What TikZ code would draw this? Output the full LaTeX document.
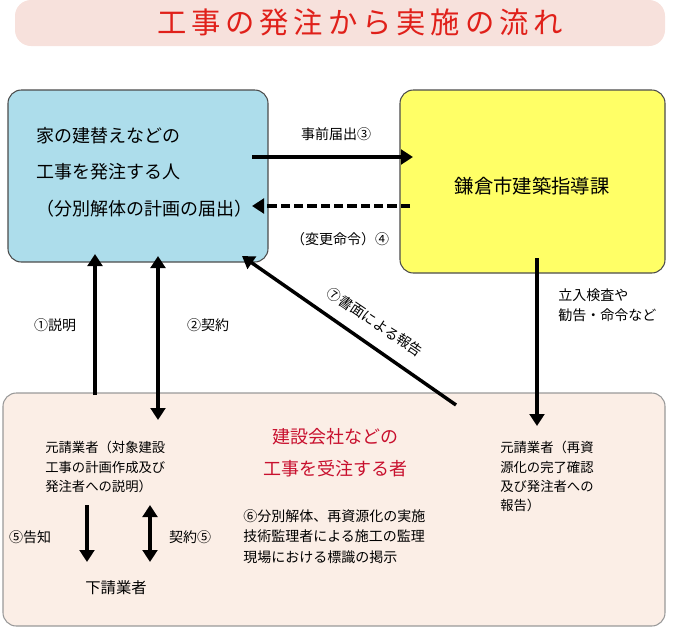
\documentclass[tikz,border=0pt]{standalone}
\usepackage{fontspec}
\setmainfont{Noto Sans CJK JP}
\usetikzlibrary{arrows.meta}
\definecolor{tpink}{HTML}{F7E1DC}
\definecolor{tred}{HTML}{E0201A}
\definecolor{lblue}{HTML}{ADDDEB}
\definecolor{lyel}{HTML}{FFFF66}
\definecolor{peach}{HTML}{FBEEE6}
\definecolor{crim}{HTML}{C8102E}
\tikzset{
 box/.style={draw=black!70,rounded corners=10pt,line width=0.8pt},
 arr/.style={line width=2.6pt,-{Triangle[length=9pt,width=11pt]}},
 darr/.style={line width=2.6pt,{Triangle[length=9pt,width=11pt]}-{Triangle[length=9pt,width=11pt]}},
 txt/.style={font=\fontsize{13.5}{16}\selectfont,align=left,inner sep=0pt},
 sm/.style={font=\fontsize{10.5}{15}\selectfont,align=left,inner sep=0pt}
}
\begin{document}
\begin{tikzpicture}[x=0.75pt,y=-0.75pt]
\useasboundingbox (0,0) rectangle (680,629);
\fill[tpink,rounded corners=12pt] (15,0) rectangle (665,46);
\node[font=\fontsize{22}{26}\selectfont,text=tred] (title) at (360,22) {工\,事\,の\,発\,注\,か\,ら\,実\,施\,の\,流\,れ};
\draw[box,fill=lblue] (8,90) rectangle (268,262);
\node[txt,anchor=west] (t1) at (36,136) {家の建替えなどの};
\node[txt,anchor=west] (t2) at (36,172) {工事を発注する人};
\node[txt,anchor=west] (t3) at (36,209) {（分別解体の計画の届出）};
\draw[box,fill=lyel] (400,90) rectangle (665,273);
\node[txt,font=\fontsize{14.5}{18}\selectfont] (t4) at (532,186) {鎌倉市建築指導課};
\draw[box,draw=black!40,fill=peach] (3,393) rectangle (665,626);
\coordinate (a1) at (252,157); \coordinate (a2) at (413,157);
\draw[arr] (a1) -- (a2);
\coordinate (d1) at (410,206); \coordinate (d2) at (252,206);
\draw[arr,dashed,dash pattern=on 7pt off 3pt] (d1) -- (d2);
\node[sm] (l3) at (336,134) {事前届出③};
\node[sm] (l4) at (340,239) {（変更命令）④};
\coordinate (u1) at (95,395); \coordinate (u2) at (95,254);
\draw[arr] (u1) -- (u2);
\node[sm] (l1) at (55,325) {①説明};
\coordinate (c1) at (158,256); \coordinate (c2) at (158,420);
\draw[darr] (c1) -- (c2);
\node[sm] (l2) at (208,325) {②契約};
\coordinate (g1) at (456,405); \coordinate (g2) at (242,256);
\draw[arr] (g1) -- (g2);
\node[sm,rotate=-34] (l7) at (375,322) {⑦書面による報告};
\coordinate (k1) at (537,258); \coordinate (k2) at (537,426);
\draw[arr] (k1) -- (k2);
\node[sm] (l8) at (558,288) [anchor=north west] {立入検査や\\勧告・命令など};
\node[sm,anchor=north west,font=\fontsize{10}{14.5}\selectfont] (p1) at (45,441) {元請業者（対象建設\\工事の計画作成及び\\発注者への説明）};
\node[txt,text=crim,align=center,font=\fontsize{13.5}{24}\selectfont] (p2) at (335,453) {建設会社などの\\工事を受注する者};
\node[sm,anchor=north west,font=\fontsize{10.5}{15.5}\selectfont] (p3) at (243,509) {⑥分別解体、再資源化の実施\\技術監理者による施工の監理\\現場における標識の掲示};
\node[sm,anchor=north west,font=\fontsize{10}{14.5}\selectfont] (p4) at (500,441) {元請業者（再資\\源化の完了確認\\及び発注者への\\報告）};
\coordinate (e1) at (87,505); \coordinate (e2) at (87,562);
\draw[arr] (e1) -- (e2);
\node[sm] (l5) at (30,537) {⑤告知};
\coordinate (f1) at (150,505); \coordinate (f2) at (150,562);
\draw[darr] (f1) -- (f2);
\node[sm] (l6) at (190,537) {契約⑤};
\node[txt,font=\fontsize{11.5}{15}\selectfont] (p5) at (116,588) {下請業者};
\end{tikzpicture}
\end{document}
